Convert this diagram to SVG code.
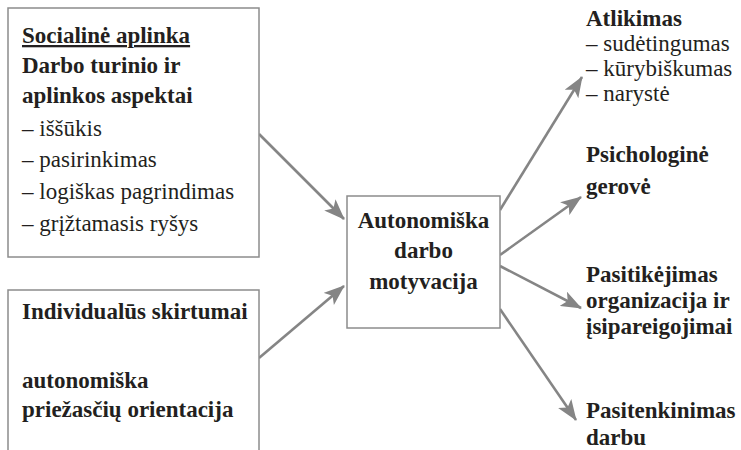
<svg xmlns="http://www.w3.org/2000/svg" width="741" height="450" viewBox="0 0 741 450">
  <style>
    .box { fill: #ffffff; stroke: #8c8c8c; stroke-width: 1.5; }
    .edge { stroke: #858585; stroke-width: 2.6; fill: none; marker-end: url(#head); }
  </style>
  <defs>
    <marker id="head" markerUnits="userSpaceOnUse" markerWidth="22" markerHeight="16" viewBox="0 0 22 16" refX="20" refY="8" orient="auto">
      <path d="M0,0 L21,8 L0,16 L5,8 Z" fill="#858585"/>
    </marker>
  </defs>
  <rect width="741" height="450" fill="#ffffff"/>

  <!-- connectors -->
  <g id="connectors">
    <line class="edge" x1="259" y1="134" x2="344" y2="219"/>
    <line class="edge" x1="259" y1="358" x2="344" y2="286"/>
    <line class="edge" x1="500" y1="210" x2="582" y2="77"/>
    <line class="edge" x1="500" y1="255" x2="581" y2="197"/>
    <line class="edge" x1="500" y1="266" x2="581" y2="308"/>
    <line class="edge" x1="500" y1="309" x2="576" y2="420"/>
  </g>

  <!-- left: social environment -->
  <g id="social" font-family="Liberation Serif" font-size="23" fill="#231f20">
    <rect class="box" x="8" y="8" width="251" height="249"/>
    <text font-weight="bold" text-decoration="underline" x="22" y="43">Socialinė aplinka</text>
    <text font-weight="bold" x="22" y="73">Darbo turinio ir</text>
    <text font-weight="bold" x="22" y="103">aplinkos aspektai</text>
    <text x="22" y="136">– iššūkis</text>
    <text x="22" y="167">– pasirinkimas</text>
    <text x="22" y="199">– logiškas pagrindimas</text>
    <text x="22" y="231">– grįžtamasis ryšys</text>
  </g>

  <!-- left: individual differences -->
  <g id="individual" font-family="Liberation Serif" font-size="23" font-weight="bold" fill="#231f20">
    <rect class="box" x="8" y="290" width="251" height="175"/>
    <text x="22" y="319">Individualūs skirtumai</text>
    <text x="22" y="388">autonomiška</text>
    <text x="22" y="417">priežasčių orientacija</text>
  </g>

  <!-- centre: motivation -->
  <g id="motivation" font-family="Liberation Serif" font-size="23" font-weight="bold" fill="#231f20" text-anchor="middle">
    <rect class="box" x="347" y="196" width="153" height="132"/>
    <text x="423.5" y="228">Autonomiška</text>
    <text x="423.5" y="258">darbo</text>
    <text x="423.5" y="289">motyvacija</text>
  </g>

  <!-- right: outcomes -->
  <g id="performance" font-family="Liberation Serif" font-size="23" fill="#231f20">
    <text font-weight="bold" x="586" y="26">Atlikimas</text>
    <text x="586" y="51">– sudėtingumas</text>
    <text x="586" y="76">– kūrybiškumas</text>
    <text x="586" y="101">– narystė</text>
  </g>
  <g id="wellbeing" font-family="Liberation Serif" font-size="23" font-weight="bold" fill="#231f20">
    <text x="586" y="162">Psichologinė</text>
    <text x="586" y="194">gerovė</text>
  </g>
  <g id="trust" font-family="Liberation Serif" font-size="23" font-weight="bold" fill="#231f20">
    <text x="586" y="282">Pasitikėjimas</text>
    <text x="586" y="308">organizacija ir</text>
    <text x="586" y="334">įsipareigojimai</text>
  </g>
  <g id="satisfaction" font-family="Liberation Serif" font-size="23" font-weight="bold" fill="#231f20">
    <text x="586" y="418">Pasitenkinimas</text>
    <text x="586" y="445">darbu</text>
  </g>
</svg>
